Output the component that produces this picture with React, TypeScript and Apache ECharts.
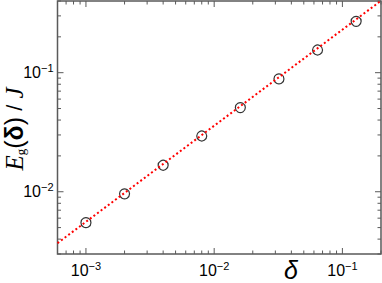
import React, { useEffect, useRef } from "react";
import * as echarts from "echarts";

const deltaValues = [0.001, 0.002, 0.004, 0.008, 0.016, 0.032, 0.064, 0.128];
const energyValues = [0.0055, 0.0096, 0.0167, 0.0294, 0.0509, 0.0887, 0.155, 0.27];
const fitX = [0.0006, 0.2];
const fitY = [0.0037, 0.402];
const xRange = [0.0006, 0.2];
const yRange = [0.003, 0.4];
const xMajorTicks = [0.001, 0.01, 0.1];
const xMinorTicks = [0.0007, 0.0008, 0.0009, 0.002, 0.003, 0.004, 0.005, 0.006, 0.007, 0.008, 0.009, 0.02, 0.03, 0.04, 0.05, 0.06, 0.07, 0.08, 0.09, 0.2];
const yMajorTicks = [0.01, 0.1];
const yMinorTicks = [0.003, 0.004, 0.005, 0.006, 0.007, 0.008, 0.009, 0.02, 0.03, 0.04, 0.05, 0.06, 0.07, 0.08, 0.09, 0.2, 0.3, 0.4];

const AXIS = "#5a5a5a";

function decadeLabel(v: number): string {
  const e = Math.log10(v);
  const r = Math.round(e);
  if (Math.abs(e - r) > 1e-6) return "";
  return `10{sup|\u2212${Math.abs(r)}}`;
}

function makeLabel(margin: number) {
  return {
    formatter: decadeLabel,
    fontSize: 16,
    fontFamily: "Liberation Sans",
    color: "#000",
    margin,
    rich: {
      sup: {
        fontSize: 11,
        fontFamily: "Liberation Sans",
        color: "#000",
        verticalAlign: "top",
        padding: [0, 0, 9, 0],
      },
    },
  };
}

export default function App() {
  const ref = useRef<HTMLDivElement>(null);
  useEffect(() => {
    if (!ref.current) return;
    const chart = echarts.init(ref.current, null, { renderer: "svg" });
    const xTickData = [
      ...xMajorTicks.map((v) => [v, yRange[0], 1]),
      ...xMinorTicks.map((v) => [v, yRange[0], 0]),
    ];
    const yTickData = [
      ...yMajorTicks.map((v) => [xRange[0], v, 1]),
      ...yMinorTicks.map((v) => [xRange[0], v, 0]),
    ];
    const tickStyle = { stroke: AXIS, lineWidth: 1 };
    chart.setOption({
      animation: false,
      grid: {
        left: 57.5,
        top: 1,
        width: 323.5,
        height: 253,
        show: true,
        borderColor: AXIS,
        borderWidth: 1.5,
        backgroundColor: "transparent",
        outerBoundsMode: "none",
        containLabel: false,
      },
      xAxis: {
        type: "log",
        logBase: 10,
        min: xRange[0],
        max: xRange[1],
        axisLine: { show: false },
        axisTick: { show: false },
        splitLine: { show: false },
        axisLabel: makeLabel(6),
      },
      yAxis: {
        type: "log",
        logBase: 10,
        min: yRange[0],
        max: yRange[1],
        axisLine: { show: false },
        axisTick: { show: false },
        splitLine: { show: false },
        axisLabel: makeLabel(4),
      },
      graphic: [
        {
          type: "text",
          x: 291,
          y: 270,
          style: {
            text: "\u03b4",
            font: "italic 25px 'Liberation Sans'",
            fill: "#000",
            align: "center",
            verticalAlign: "middle",
          },
        },
        {
          type: "text",
          x: 14,
          y: 129,
          rotation: Math.PI / 2,
          style: {
            text: "{e|E}{g|g}{p|(}{d|\u03b4}{p|)}{q| / }{e|J}",
            align: "center",
            verticalAlign: "middle",
            fill: "#000",
            rich: {
              e: { fontFamily: "Liberation Serif", fontStyle: "italic", fontSize: 25, fill: "#000" },
              g: { fontFamily: "Liberation Serif", fontSize: 13, fill: "#000", verticalAlign: "bottom", padding: [9, 0, 0, 0] },
              p: { fontFamily: "Liberation Sans", fontSize: 25, fill: "#000" },
              d: { fontFamily: "Liberation Sans", fontWeight: "bold", fontSize: 25, fill: "#000" },
              q: { fontFamily: "Liberation Sans", fontSize: 22, fill: "#000" },
            },
          },
        },
      ],
      series: [
        {
          type: "custom",
          silent: true,
          data: xTickData,
          renderItem: (params: any, api: any) => {
            const cs = params.coordSys;
            const p = api.coord([api.value(0), api.value(1)]);
            const L = api.value(2) ? 6 : 3.5;
            const bottom = cs.y + cs.height;
            return {
              type: "group",
              children: [
                { type: "line", shape: { x1: p[0], y1: bottom, x2: p[0], y2: bottom - L }, style: tickStyle },
                { type: "line", shape: { x1: p[0], y1: cs.y, x2: p[0], y2: cs.y + L }, style: tickStyle },
              ],
            };
          },
        },
        {
          type: "custom",
          silent: true,
          data: yTickData,
          renderItem: (params: any, api: any) => {
            const cs = params.coordSys;
            const p = api.coord([api.value(0), api.value(1)]);
            const L = api.value(2) ? 6 : 3.5;
            const right = cs.x + cs.width;
            return {
              type: "group",
              children: [
                { type: "line", shape: { x1: cs.x, y1: p[1], x2: cs.x + L, y2: p[1] }, style: tickStyle },
                { type: "line", shape: { x1: right, y1: p[1], x2: right - L, y2: p[1] }, style: tickStyle },
              ],
            };
          },
        },
        {
          type: "scatter",
          data: deltaValues.map((d, i) => [d, energyValues[i]]),
          symbol: "circle",
          symbolSize: 10,
          itemStyle: { color: "transparent", borderColor: "#000", borderWidth: 1.2 },
          z: 3,
        },
        {
          type: "line",
          data: fitX.map((x, i) => [x, fitY[i]]),
          symbol: "none",
          lineStyle: { color: "#ff0000", width: 2, type: [2, 2.5], cap: "butt" },
          z: 4,
        },
      ],
    });
    return () => chart.dispose();
  }, []);
  return (
    <div
      ref={ref}
      style={{ position: "fixed", left: 0, top: 0, width: 382, height: 283, background: "#fff" }}
    />
  );
}
